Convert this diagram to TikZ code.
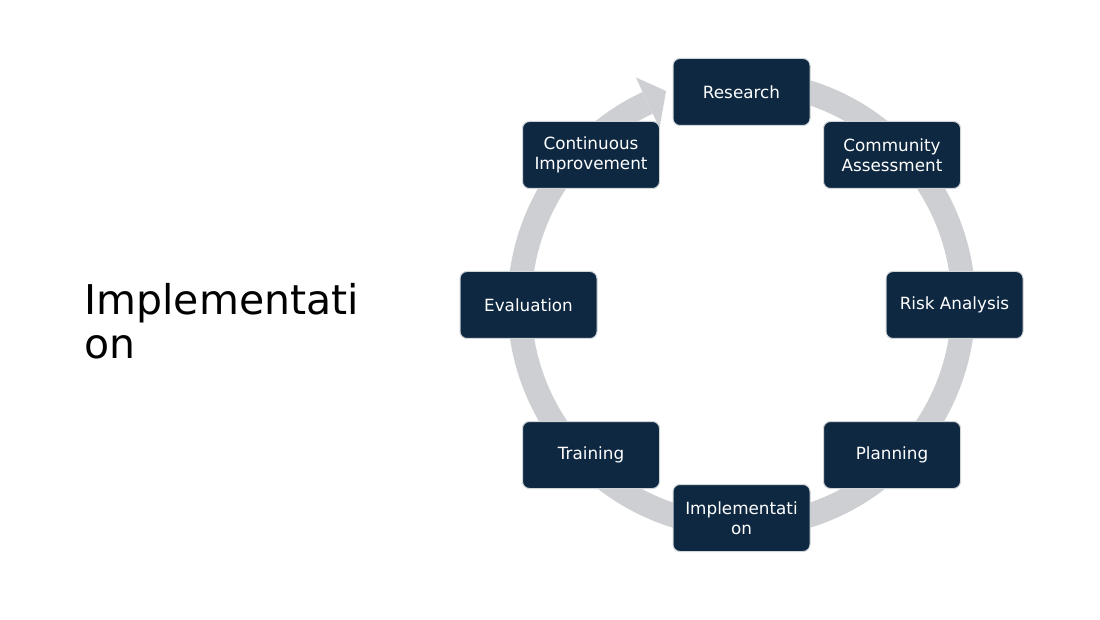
\documentclass[tikz,border=0pt]{standalone}
\usepackage{fontspec}
\setmainfont{DejaVu Sans}
\usepackage{tikz}
\usetikzlibrary{calc}
\definecolor{navy}{HTML}{0E2841}
\definecolor{ringgray}{HTML}{CDCFD2}

\begin{document}
\begin{tikzpicture}[x=1pt,y=1pt,
	stage/.style={draw=white!80!navy, line width=1pt, fill=navy, text=white, rounded corners=7pt,
		minimum width=137pt, minimum height=67pt, align=center, inner sep=2pt,
		font=\fontsize{16.8}{19.5}\selectfont}]
			
			\useasboundingbox (0,0) rectangle (1100,619);
			\coordinate (c) at (741.5,315);
			
			% ring with its head
			\draw[ringgray, line width=24pt] ($(c)+(80:222)$) arc[start angle=80, end angle=-245, radius=222];
			\fill[ringgray] ($(c)+(115:250)$) -- ($(c)+(109.5:226)$) -- ($(c)+(115:194)$) -- cycle;
			
			\node[stage] (research) at (741.5,527) {Research};
			\node[stage] (community) at (892,464) {Community\\Assessment};
			\node[stage] (risk) at (954.5,314) {Risk Analysis};
			\node[stage] (planning) at (892,164) {Planning};
			\node[stage] (implem) at (741.5,101) {Implementati\\on};
			\node[stage] (training) at (591,164) {Training};
			\node[stage] (evaluation) at (528.5,314) {Evaluation};
			\node[stage] (improvement) at (591,464) {Continuous\\Improvement};
			
			\node[anchor=base west, align=left, font=\fontsize{41}{44}\selectfont] (title) at (81,260) {Implementati\\on};
		\end{tikzpicture}
\end{document}
